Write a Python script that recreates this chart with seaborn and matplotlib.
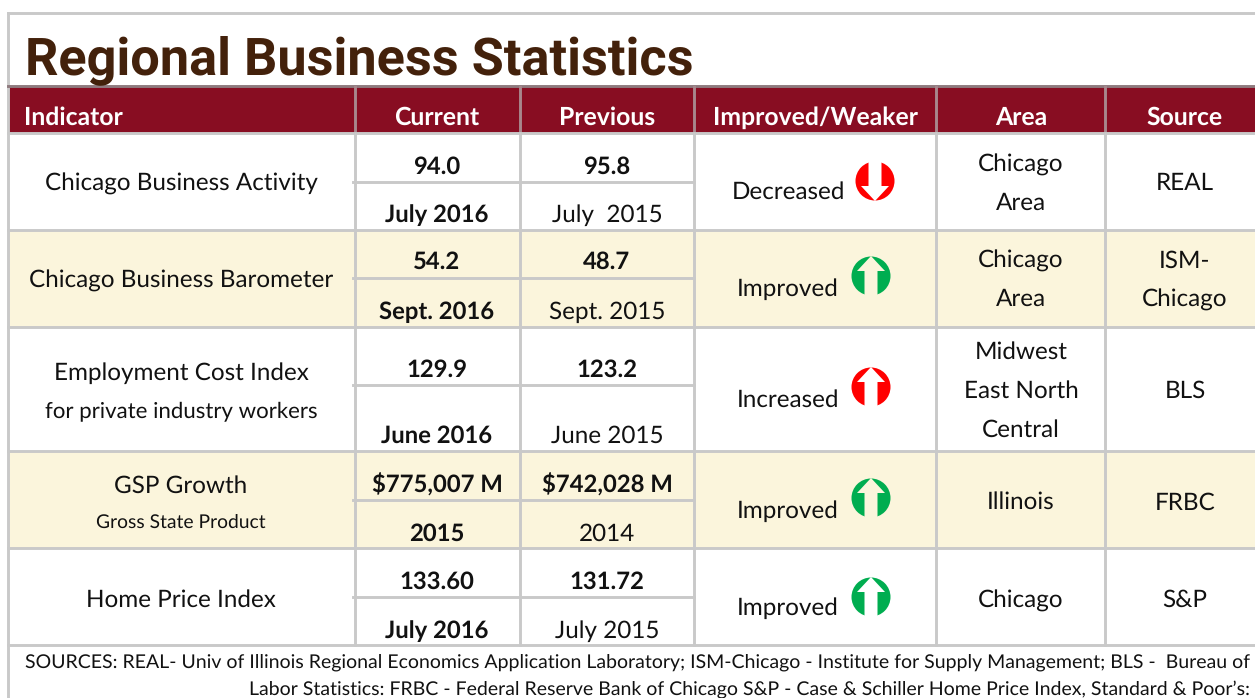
import numpy as np
import matplotlib
matplotlib.use("Agg")
import matplotlib.pyplot as plt
from matplotlib.colors import ListedColormap
from matplotlib.patches import Circle, Polygon
import seaborn as sns

# =========================
# Table content
# =========================
headers = ["Current", "Previous", "Improved/Weaker", "Area", "Source"]
indicators = [
    ["Chicago Business Activity"],
    ["Chicago Business Barometer"],
    ["Employment Cost Index", "for private industry workers"],
    ["GSP Growth", "Gross State Product"],
    ["Home Price Index"],
]
current_values = ["94.0", "54.2", "129.9", "$775,007 M", "133.60"]
current_dates = ["July 2016", "Sept. 2016", "June 2016", "2015", "July 2016"]
previous_values = ["95.8", "48.7", "123.2", "$742,028 M", "131.72"]
previous_dates = ["July  2015", "Sept. 2015", "June 2015", "2014", "July 2015"]
status = ["Decreased", "Improved", "Increased", "Improved", "Improved"]
arrow_up = [False, True, True, True, True]
arrow_colors = ["#FF0000", "#00AD50", "#FF0000", "#00AD50", "#00AD50"]
areas = [
    ["Chicago", "Area"],
    ["Chicago", "Area"],
    ["Midwest", "East North", "Central"],
    ["Illinois"],
    ["Chicago"],
]
sources = [["REAL"], ["ISM-", "Chicago"], ["BLS"], ["FRBC"], ["S&P"]]
row_shades = [2, 0, 1, 0, 1, 0]
footnote = [
    "SOURCES: REAL- Univ of Illinois Regional Economics Application Laboratory; ISM-Chicago - Institute for Supply Management; BLS -  Bureau of",
    "Labor Statistics: FRBC - Federal Reserve Bank of Chicago S&P - Case & Schiller Home Price Index, Standard & Poor\u2019s:",
]

# =========================
# Layout (pixels)
# =========================
row_heights = [46, 97, 97, 124, 97, 97]
row_lines = [133, 230, 327, 451, 548, 645]
split_lines = [182, 278, 385, 500, 597]
col_lines = [8, 355, 520, 694, 936, 1105]
col_centers = [437, 607, 815, 1021, 1185]
indicator_y = [[184], [281], [373, 411], [486, 522], [600]]
value_y = [167, 262, 370, 485, 582]
date_y = [215, 312, 436, 534, 631]
status_y = [192, 289, 400, 511, 608]
icon_x = [875, 871, 871, 871, 871]
icon_y = [181, 276, 387, 498, 597]
area_y = [[165, 203], [261, 299], [352, 391, 430], [502], [601]]
source_y = [[183], [261, 300], [391], [503], [600]]

plt.rcParams["font.family"] = ["Lato", "DejaVu Sans"]
plt.rcParams["text.hinting"] = "no_hinting"
GRID = "#C9C9C9"
INK = "#111111"
BODY = 17.5
BOLD = 17.2
W, H = 1255, 698

fig = plt.figure(figsize=(W / 100, H / 100), dpi=100, facecolor="white")

# row bands
bands = np.repeat(row_shades, row_heights).reshape(-1, 1)
ax_band = fig.add_axes([8 / W, 1 - 645 / H, (W - 8) / W, 558 / H])
sns.heatmap(bands, ax=ax_band, cbar=False, xticklabels=False, yticklabels=False,
            cmap=ListedColormap(["#FFFFFF", "#FBF5DC", "#880D22"]), vmin=0, vmax=2)

# overlay in pixel coordinates
ax = fig.add_axes([0, 0, 1, 1], frameon=False)
ax.set_xlim(0, W)
ax.set_ylim(H, 0)
ax.set_xticks([])
ax.set_yticks([])

# =========================
# Grid lines
# =========================
lw = 2.1
ax.plot([8, W], [13, 13], color=GRID, lw=lw)
ax.plot([8, 8], [13, 698], color=GRID, lw=lw)
ax.plot([8, W], [86, 86], color="#8E7A7E", lw=lw)
for y in row_lines:
    ax.plot([8, W], [y, y], color=GRID, lw=lw)
for y in split_lines:
    ax.plot([353, 694], [y, y], color=GRID, lw=lw)
for x in col_lines[1:]:
    ax.plot([x, x], [87, 133], color="#A8878D", lw=lw)
    ax.plot([x, x], [133, 645], color=GRID, lw=lw)

# =========================
# Title and header
# =========================
ax.text(25, 74, "Regional Business Statistics", fontsize=37.6, fontweight="bold",
        family=["Roboto", "DejaVu Sans"], color="#43210B", ha="left", va="baseline")
ax.text(24, 118, "Indicator", fontsize=17.8, fontweight="bold", color="white", ha="left", va="center")
for x, label in zip(col_centers, headers):
    ax.text(x, 118, label, fontsize=17.8, fontweight="bold", color="white", ha="center", va="center")


def draw_icon(cx, cy, up, color, bg):
    r = 19.5
    s = -1 if up else 1
    ax.add_patch(Circle((cx, cy), r, color=color, lw=0, zorder=3))
    shape = [(-6.5, -21 * s), (6.5, -21 * s), (6.5, 5 * s), (14, 5 * s),
             (0, 20 * s), (-14, 5 * s), (-6.5, 5 * s)]
    ax.add_patch(Polygon([(cx + px, cy + py) for px, py in shape], color=bg, lw=0, zorder=4))


# =========================
# Rows
# =========================
for i in range(5):
    bg = "#FBF5DC" if i % 2 else "#FFFFFF"
    for j, (line, y) in enumerate(zip(indicators[i], indicator_y[i])):
        size = BODY
        if j == 1:
            size = 16 if i == 2 else 13.9
        ax.text(181, y, line, fontsize=size, color=INK, ha="center", va="center")
    ax.text(col_centers[0], value_y[i], current_values[i], fontsize=BOLD, fontweight="bold", color=INK, ha="center", va="center")
    ax.text(col_centers[1], value_y[i], previous_values[i], fontsize=BOLD, fontweight="bold", color=INK, ha="center", va="center")
    ax.text(col_centers[0], date_y[i], current_dates[i], fontsize=BOLD, fontweight="bold", color=INK, ha="center", va="center")
    ax.text(col_centers[1], date_y[i], previous_dates[i], fontsize=BODY, color=INK, ha="center", va="center")
    ax.text(788, status_y[i], status[i], fontsize=BODY, color=INK, ha="center", va="center")
    draw_icon(icon_x[i], icon_y[i], arrow_up[i], arrow_colors[i], bg)
    for line, y in zip(areas[i], area_y[i]):
        ax.text(col_centers[3], y, line, fontsize=BODY, color=INK, ha="center", va="center")
    for line, y in zip(sources[i], source_y[i]):
        ax.text(col_centers[4], y, line, fontsize=BODY, color=INK, ha="center", va="center")

# =========================
# Footnote
# =========================
ax.text(1250, 662, footnote[0], fontsize=14, color=INK, ha="right", va="center")
ax.text(1250, 689, footnote[1], fontsize=14, color=INK, ha="right", va="center")

fig.savefig("out.png", dpi=100)
